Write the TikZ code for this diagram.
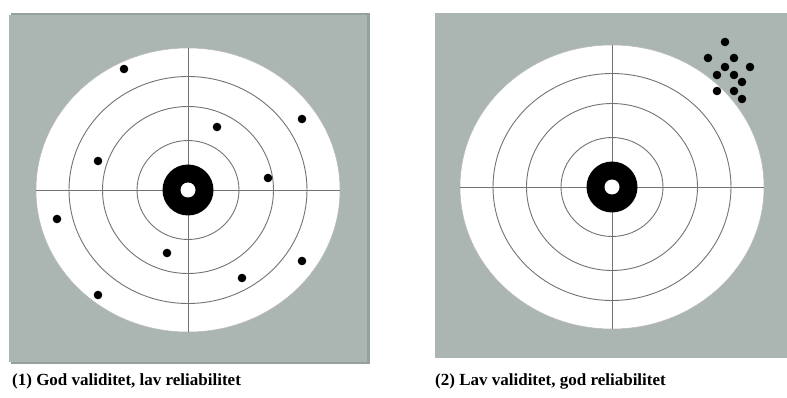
\documentclass[tikz,border=0pt]{standalone}
\usepackage{fontspec}
\setmainfont{Liberation Serif}
\definecolor{panelgray}{RGB}{171,181,178}
\definecolor{panelshade}{RGB}{150,160,157}
\definecolor{ringgray}{RGB}{115,115,115}
\tikzset{
  panel/.style={fill=panelgray},
  ring/.style={draw=ringgray,line width=0.9pt},
  shot/.style={fill=black},
  caption/.style={anchor=west,inner sep=0pt,font=\bfseries\fontsize{17}{20}\selectfont}
}
% one target face centred at (#1,#2)
\newcommand\drawtarget[2]{%
  \fill[white,draw=ringgray!50,line width=0.5pt] (#1,#2) ellipse [x radius=152, y radius=142];
  \foreach \rx/\ry in {119/113.5, 85.5/83.5, 51/49.5}
    \draw[ring] (#1,#2) ellipse [x radius=\rx, y radius=\ry];
  \draw[ring] (#1-152,#2) -- (#1+152,#2);
  \draw[ring] (#1,#2-142) -- (#1,#2+142);
  \fill[black] (#1,#2) circle [radius=25.5];
  \fill[white] (#1,#2) circle [radius=7.5];
}
\begin{document}
\begin{tikzpicture}[x=1pt,y=-1pt]
\useasboundingbox (0,0) rectangle (787,398);
\fill[white] (0,0) rectangle (787,398);

% left panel with a slight shaded edge
\fill[panelshade] (11,13) rectangle (370,364);
\fill[panel] (9,15) rectangle (367,362);
\drawtarget{188}{190}
\foreach \x/\y in {124/69, 302/119, 217/127, 98/161, 268/178, 57/219,
                   167/253, 302/261, 242/278, 98/295}
  \fill[shot] (\x,\y) circle [radius=4.3];

% right panel
\fill[panel] (435,13) rectangle (787,358);
\drawtarget{612}{187}
\foreach \x/\y in {725/42, 708/58, 734/58, 750/67, 725/67, 717/75,
                   734/75, 742/82, 717/91, 734/91, 742/99}
  \fill[shot] (\x,\y) circle [radius=4.3];

% captions
\node[caption] (cap1) at (12,381) {(1) God validitet, lav reliabilitet};
\node[caption] (cap2) at (435,381) {(2) Lav validitet, god reliabilitet};
\end{tikzpicture}
\end{document}
